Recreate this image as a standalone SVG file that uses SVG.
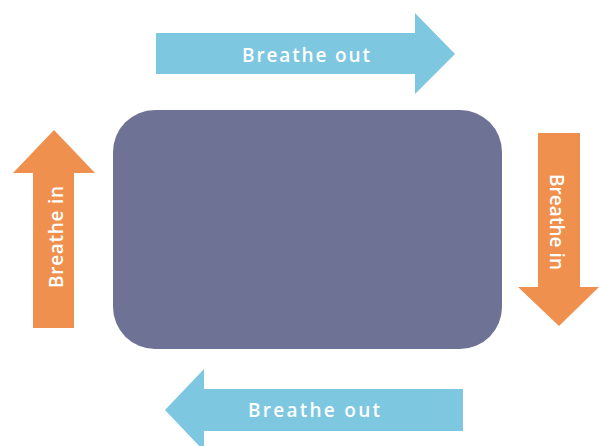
<svg xmlns="http://www.w3.org/2000/svg" width="599" height="446" viewBox="0 0 599 446">
  <style>
    .blue { fill: #7dc7e1; }
    .orange { fill: #f0904f; }
    .lbl { fill: #ffffff; font-family: "Open Sans", "Liberation Sans", sans-serif; font-weight: 600; font-size: 19px; text-anchor: middle; }
  </style>
  <rect width="599" height="446" fill="#ffffff"/>
  <g id="center-box">
    <rect x="113" y="110" width="389" height="239" rx="42" ry="42" fill="#6e7395"/>
  </g>
  <g id="connectors">
    <g id="arrow-top">
      <polygon class="blue" points="156,33 415,33 415,13 455,54 415,94 415,74 156,74"/>
      <text class="lbl" x="306" y="62" textLength="128" lengthAdjust="spacing">Breathe out</text>
    </g>
    <g id="arrow-right">
      <polygon class="orange" points="538,133 580,133 580,287 599,287 559,326 518,287 538,287"/>
      <text class="lbl" transform="translate(550,222) rotate(90)" x="0" y="0" textLength="96" lengthAdjust="spacing">Breathe in</text>
    </g>
    <g id="arrow-bottom">
      <polygon class="blue" points="463,389 204,389 204,369 165,410 204,451 204,431 463,431"/>
      <text class="lbl" x="314" y="417" textLength="132" lengthAdjust="spacing">Breathe out</text>
    </g>
    <g id="arrow-left">
      <polygon class="orange" points="33,328 33,173 13,173 54,130 95,173 74,173 74,328"/>
      <text class="lbl" transform="translate(63,237) rotate(-90)" x="0" y="0" textLength="102" lengthAdjust="spacing">Breathe in</text>
    </g>
  </g>
</svg>
